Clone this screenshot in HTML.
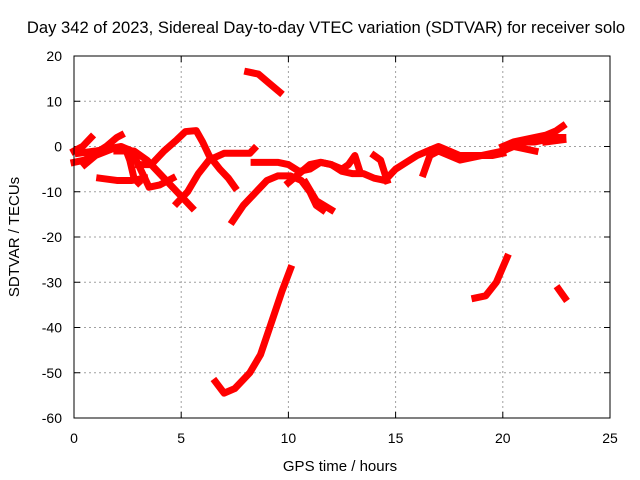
<!DOCTYPE html>
<html><head><meta charset="utf-8"><style>
body{margin:0;background:#fff;}
svg{display:block;font-family:"Liberation Sans",sans-serif;}
</style></head><body>
<svg id="chart" width="640" height="480">
<text x="326" y="33" font-size="16.6" text-anchor="middle">Day 342 of 2023, Sidereal Day-to-day VTEC variation (SDTVAR) for receiver solo</text>
<text x="340" y="471" font-size="15" text-anchor="middle">GPS time / hours</text>
<text transform="translate(19,237) rotate(-90)" font-size="15" text-anchor="middle">SDTVAR / TECUs</text>
<g id="grid"></g><g id="ticks"></g><g id="series"></g>
<rect x="74" y="56" width="536" height="362" fill="none" stroke="#000" stroke-width="1"/>
</svg>
<script>
const xTicks=[0,5,10,15,20,25];
const yTicks=[20,10,0,-10,-20,-30,-40,-50,-60];
const trackA=[[0,-1],[0.4,0],[0.8,2]];
const trackB=[[0,-3.5],[0.5,-3],[1,-1.5],[1.5,0],[2,2],[2.2,2.5]];
const trackC=[[0.2,-1.5],[1,-1],[1.6,-0.5],[2.2,0],[2.7,-1],[3.0,-4],[3.3,-7],[3.5,-9],[4,-8.5],[4.6,-7]];
const trackD=[[0.5,-4],[1,-2],[1.8,-0.5],[2.4,-0.5],[2.6,-3],[2.8,-7],[3.0,-8]];
const trackE=[[1.2,-7],[2,-7.5],[2.7,-7.5],[3.3,-7]];
const trackF=[[3,-4],[3.6,-4],[4.2,-1],[4.8,1.5],[5.2,3.3],[5.7,3.5],[6.0,1],[6.3,-2],[6.8,-5],[7.2,-7],[7.5,-9]];
const trackG=[[2,-1],[2.8,-1],[3.4,-3],[4.2,-7],[4.8,-10],[5.5,-13.5]];
const trackH=[[4.8,-12.5],[5.3,-10],[5.8,-6],[6.3,-3],[7,-1.5],[7.5,-1.5],[8.2,-1.5],[8.4,-0.5]];
const trackJ=[[7.4,-16.5],[7.9,-13],[8.5,-10],[9,-7.5],[9.5,-6.5],[10.1,-6.5],[10.6,-7.5],[11,-10],[11.3,-13],[11.6,-14]];
const trackJ2=[[10.8,-8],[11.3,-12],[12,-14]];
const trackK=[[8.4,-3.5],[9.5,-3.5],[10,-4],[10.5,-5.5],[11,-5],[11.5,-3.5],[12,-4],[12.5,-5.5],[13,-6],[13.5,-6],[14,-7],[14.5,-7.5],[15,-5],[15.5,-3.5],[16,-2],[16.5,-1],[17,0],[17.5,-1],[18,-2],[18.5,-2],[19,-2],[19.5,-1.5],[20,-1],[20.5,0.5],[21,1],[21.5,1],[22,1.5],[22.5,2],[22.8,2]];
const trackL=[[10,-8],[10.5,-6],[11,-4],[11.5,-3.5],[12,-4],[12.5,-5],[12.8,-4],[13.1,-2],[13.3,-5]];
const trackM=[[14,-2],[14.3,-3],[14.6,-7.5]];
const trackN=[[16.3,-6],[16.6,-2],[17,-1],[17.5,-2],[18,-3],[18.5,-2.5],[19,-2],[19.5,-2],[20,-1.5]];
const trackO=[[20,0],[20.5,1],[21,1.5],[21.5,2],[22,2.5],[22.5,3.5],[22.8,4.5]];
const trackP=[[20,-1],[20.5,0],[21,-0.5],[21.5,-1]];
const trackQ=[[22,1],[22.8,1.5]];
const trackTop=[[8.1,16.5],[8.6,16],[9.1,14],[9.6,12]];
const trackDip=[[6.6,-52],[7.0,-54.5],[7.5,-53.5],[8.2,-50],[8.7,-46],[9.2,-39],[9.7,-32],[10.1,-27]];
const trackR=[[18.7,-33.5],[19.2,-33],[19.7,-30],[20.2,-24.5]];
const trackS=[[22.6,-31.5],[22.9,-33.5]];
const tracks=[trackA,trackB,trackC,trackD,trackE,trackF,trackG,trackH,trackJ,trackJ2,trackK,trackL,trackM,trackN,trackO,trackP,trackQ,trackTop,trackDip,trackR,trackS];
const NS="http://www.w3.org/2000/svg";
const X=v=>74+v*(536/25);
const Y=v=>56+(20-v)*(362/80);
const grid=document.getElementById('grid'),ticks=document.getElementById('ticks'),ser=document.getElementById('series');
function mk(t,a,p){const e=document.createElementNS(NS,t);for(const k in a)e.setAttribute(k,a[k]);p.appendChild(e);return e;}
xTicks.forEach(v=>{
 if(v>0&&v<25){const g=mk('line',{x1:X(v),x2:X(v),y1:56,y2:418,stroke:'#a0a0a0','stroke-dasharray':'2,3'},grid);
 
 }
 mk('line',{x1:X(v),x2:X(v),y1:418,y2:412,stroke:'#000'},ticks);
 mk('line',{x1:X(v),x2:X(v),y1:56,y2:62,stroke:'#000'},ticks);
 const t=mk('text',{x:X(v),y:443,'font-size':14,'text-anchor':'middle'},ticks);t.textContent=v;
 
 
});
yTicks.forEach(v=>{
 if(v<20&&v>-60){const g=mk('line',{x1:74,x2:610,y1:Y(v),y2:Y(v),stroke:'#a0a0a0','stroke-dasharray':'2,3'},grid);
 
 }
 mk('line',{x1:74,x2:80,y1:Y(v),y2:Y(v),stroke:'#000'},ticks);
 mk('line',{x1:604,x2:610,y1:Y(v),y2:Y(v),stroke:'#000'},ticks);
 const t=mk('text',{x:62,y:Y(v)+5,'font-size':14,'text-anchor':'end'},ticks);t.textContent=v;
 
 
});
tracks.forEach(tr=>{
 const p=mk('polyline',{points:tr.map(d=>X(d[0])+','+Y(d[1])).join(' '),fill:'none',stroke:'#ff0000','stroke-width':7,'stroke-linejoin':'round','stroke-linecap':'square'},ser);
 
 
});
</script>
</body></html>
